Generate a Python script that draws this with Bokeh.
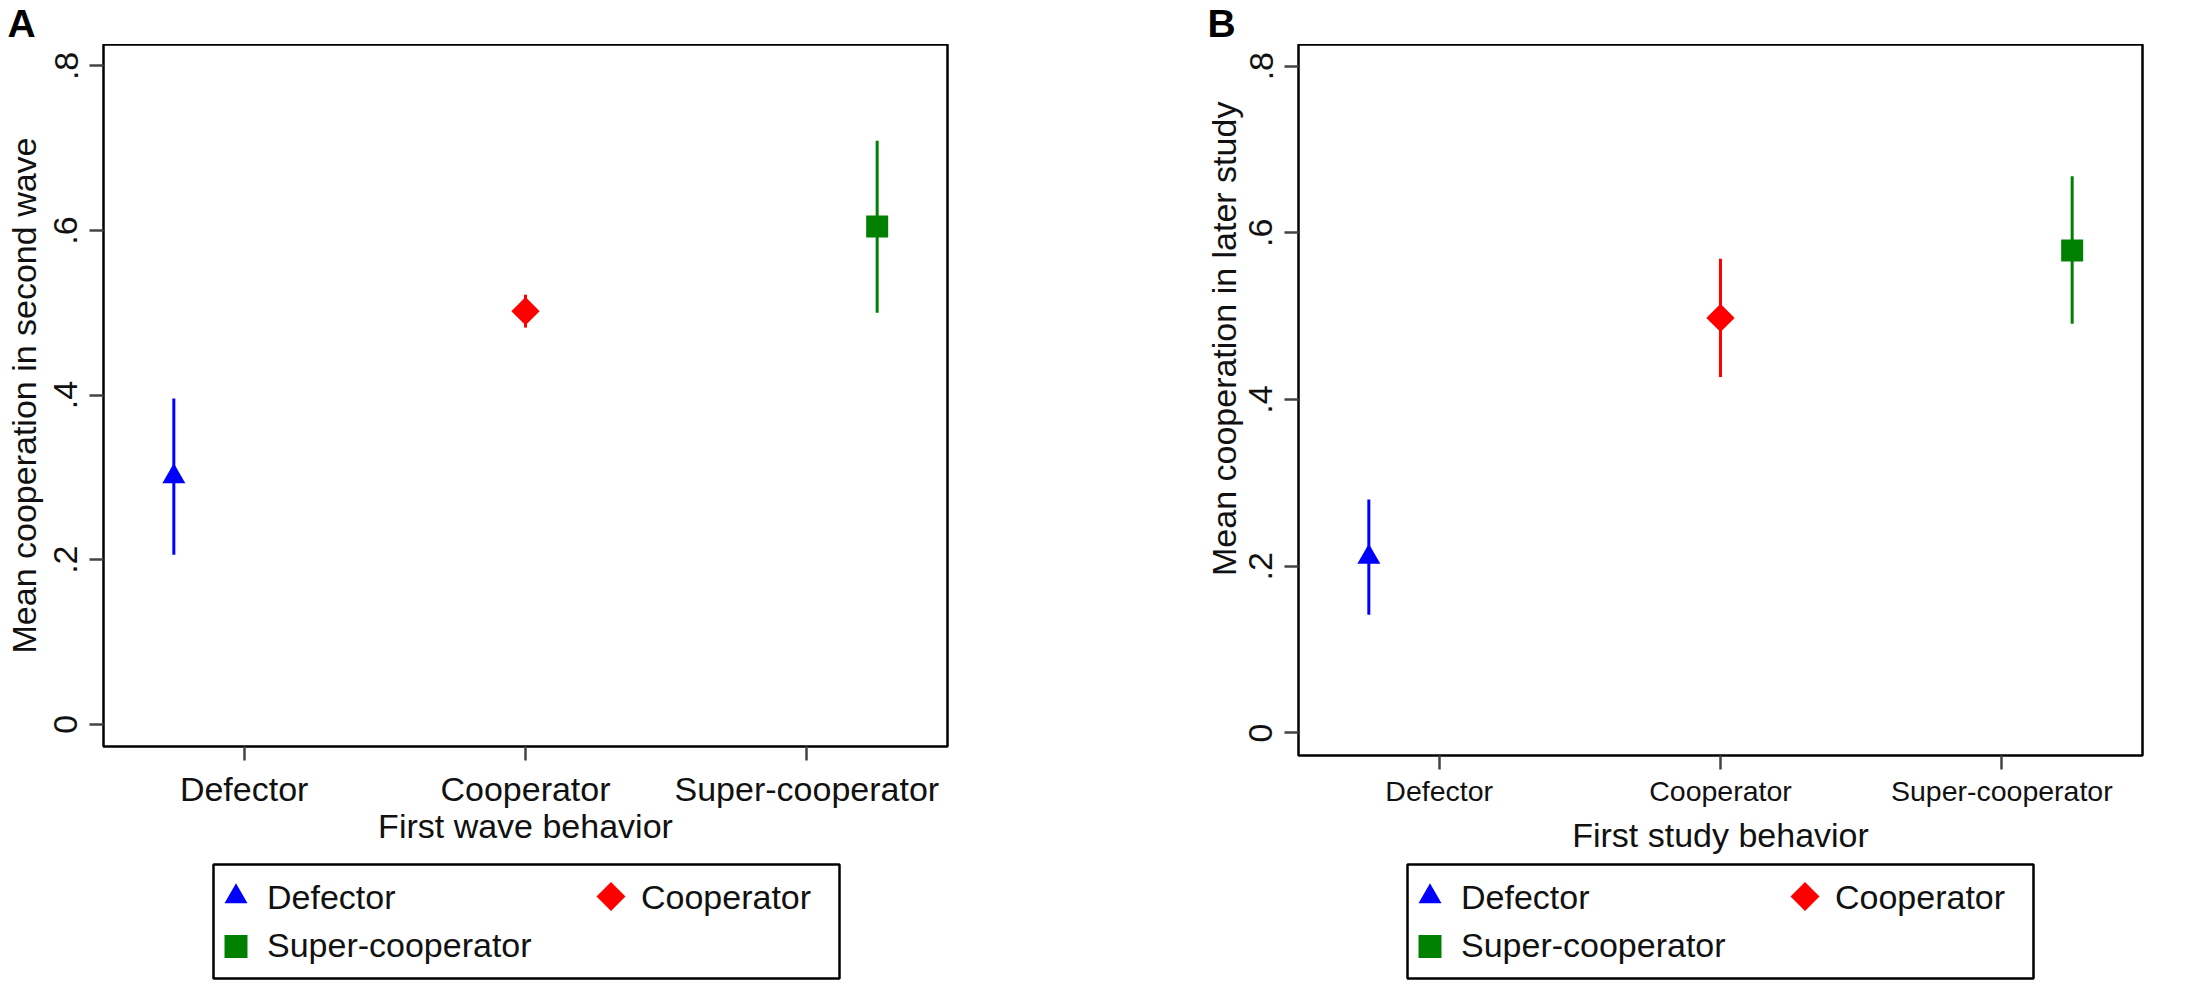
import math
from bokeh.plotting import figure
from bokeh.models import (Range1d, FixedTicker, CustomJSTickFormatter, LinearAxis,
                          Title, Spacer, ColumnDataSource)
from bokeh.layouts import row, column
from bokeh.embed import file_html
from bokeh.resources import INLINE
from bokeh.core.properties import value, field

# ---------------- data ----------------
groups = ["Defector", "Cooperator", "Super-cooperator"]
group_ticks = [1, 2, 3]              # tick position of each category
group_x = [0.75, 2.0, 3.25]          # x position of each group's estimate

# Panel A: first wave behaviour -> mean cooperation in second wave
a_mean = [0.301, 0.502, 0.605]
a_low = [0.206, 0.482, 0.500]
a_high = [0.396, 0.522, 0.709]

# Panel B: first study behaviour -> mean cooperation in later study
b_mean = [0.211, 0.498, 0.579]
b_low = [0.142, 0.427, 0.491]
b_high = [0.280, 0.569, 0.668]

y_ticks = [0, 0.2, 0.4, 0.6, 0.8]

# ---------------- styles ----------------
colors = ["#0000ff", "#ff0000", "#008000"]
markers = ["triangle", "square", "square"]
angles = [0.0, math.pi / 4, 0.0]
sizes = [23, 20, 22]
FONT = "Liberation Sans"
TXT = "#111111"


def make_letter(letter, xoff):
    f = figure(width=120, height=44, x_range=Range1d(0, 120), y_range=Range1d(0, 44),
               min_border_left=0, min_border_right=0, min_border_top=0,
               min_border_bottom=0, x_axis_location=None, y_axis_location=None,
               toolbar_location=None, output_backend="svg", title=None)
    f.grid.visible = False
    f.outline_line_color = None
    f.text(x=[xoff], y=[21], text=[letter], text_font=value(FONT),
           text_font_size="39px", text_font_style="bold",
           text_baseline="alphabetic", text_align="left", text_color="black")
    return f


def make_panel(mean, low, high, ytitle, ytitle_mode, ytitle_offset, xtitle, frame_h,
               left_border, xtick_size, xtick_standoff, xlabel_standoff):
    p = figure(x_range=Range1d(0.5, 3.5), y_range=Range1d(-0.027, 0.826),
               frame_width=844, frame_height=frame_h,
               min_border_left=left_border, min_border_right=10,
               min_border_top=0, min_border_bottom=104,
               toolbar_location=None, output_backend="svg", title=None)
    p.grid.visible = False
    p.background_fill_color = "white"
    p.border_fill_color = "white"
    p.outline_line_color = "black"
    p.outline_line_width = 2.5

    src = ColumnDataSource(dict(x=group_x, mean=mean, low=low, high=high,
                                color=colors, marker=markers, angle=angles,
                                size=sizes))
    p.segment(x0="x", y0="low", x1="x", y1="high", source=src,
              line_color="color", line_width=3)
    p.scatter(x="x", y="mean", marker=field("marker"), size="size",
              angle="angle", fill_color="color", line_color=None, source=src)

    for ax in (p.xaxis[0], p.yaxis[0]):
        ax.axis_line_color = None
        ax.major_tick_line_color = "#444444"
        ax.major_tick_line_width = 2.5
        ax.major_tick_in = 0
        ax.major_tick_out = 14
        ax.minor_tick_line_color = None
        ax.major_label_text_font = FONT
        ax.major_label_text_color = TXT

    xa = p.xaxis[0]
    xa.ticker = FixedTicker(ticks=group_ticks)
    xa.major_label_overrides = {t: g for t, g in zip(group_ticks, groups)}
    xa.major_label_text_font_size = xtick_size
    xa.major_label_standoff = xtick_standoff
    xa.axis_label = xtitle
    xa.axis_label_text_font = FONT
    xa.axis_label_text_font_size = "34px"
    xa.axis_label_text_font_style = "normal"
    xa.axis_label_text_color = TXT
    xa.axis_label_standoff = xlabel_standoff

    ya = p.yaxis[0]
    ya.ticker = FixedTicker(ticks=y_ticks)
    ya.formatter = CustomJSTickFormatter(
        code="return tick == 0 ? '0' : tick.toFixed(1).replace(/^0/, '');")
    ya.major_label_text_font_size = "34px"
    ya.major_label_orientation = "vertical"
    ya.major_label_standoff = 12

    if ytitle_mode == "axis":
        # centred y title on its own tick-less axis
        yt = LinearAxis(ticker=FixedTicker(ticks=[]), axis_label=ytitle)
        yt.axis_line_color = None
        yt.major_tick_line_color = None
        yt.minor_tick_line_color = None
        yt.major_tick_in = 0
        yt.major_tick_out = 0
        yt.major_label_standoff = 0
        yt.axis_label_standoff = 9
        yt.axis_label_text_font = FONT
        yt.axis_label_text_font_size = "34px"
        yt.axis_label_text_font_style = "normal"
        yt.axis_label_text_color = TXT
        p.add_layout(yt, "left")
    else:
        # y title shifted up along the axis, as in the reference
        t = Title(text=ytitle, align="left", offset=ytitle_offset,
                  text_font=FONT, text_font_size="34px", text_font_style="normal",
                  text_color=TXT, standoff=8)
        p.add_layout(t, "left")
    return p


def make_legend():
    lg = figure(width=630, height=118, x_range=Range1d(0, 626),
                y_range=Range1d(0, 114), min_border_left=2, min_border_right=2,
                min_border_top=2, min_border_bottom=2,
                x_axis_location=None, y_axis_location=None,
                toolbar_location=None, output_backend="svg", title=None)
    lg.grid.visible = False
    lg.outline_line_color = "black"
    lg.outline_line_width = 2.5
    col = [i % 2 for i in range(len(groups))]
    rw = [i // 2 for i in range(len(groups))]
    mx = [22.5 + c * 375 for c in col]
    my = [82 - r * 50 for r in rw]
    tx = [53.5 + c * 374 for c in col]
    ty = [82 - r * 48 for r in rw]
    lsizes = [23, 20.5, 23]
    lg.scatter(x=mx, y=my, marker=markers, angle=angles, size=lsizes,
               fill_color=colors, line_color=None)
    lg.text(x=tx, y=ty, text=groups, text_font=value(FONT),
            text_font_size="34px", text_baseline="alphabetic",
            text_align="left", text_color=TXT)
    return lg


pA = make_panel(a_mean, a_low, a_high, "Mean cooperation in second wave", "axis", 0,
                "First wave behavior", 702, 103, "34px", 9, -4)
pB = make_panel(b_mean, b_low, b_high, "Mean cooperation in later study", "title", 179.5,
                "First study behavior", 711, 110, "28.5px", 5, 6)

colA = column(row(Spacer(width=0), make_letter("A", 7)), pA, Spacer(height=12),
              row(Spacer(width=211), make_legend()))
colB = column(row(Spacer(width=0), make_letter("B", 19)), pB, Spacer(height=3),
              row(Spacer(width=217), make_legend()))
layout = row(colA, Spacer(width=231), colB)

open("out.html", "w").write(file_html(layout, INLINE))
